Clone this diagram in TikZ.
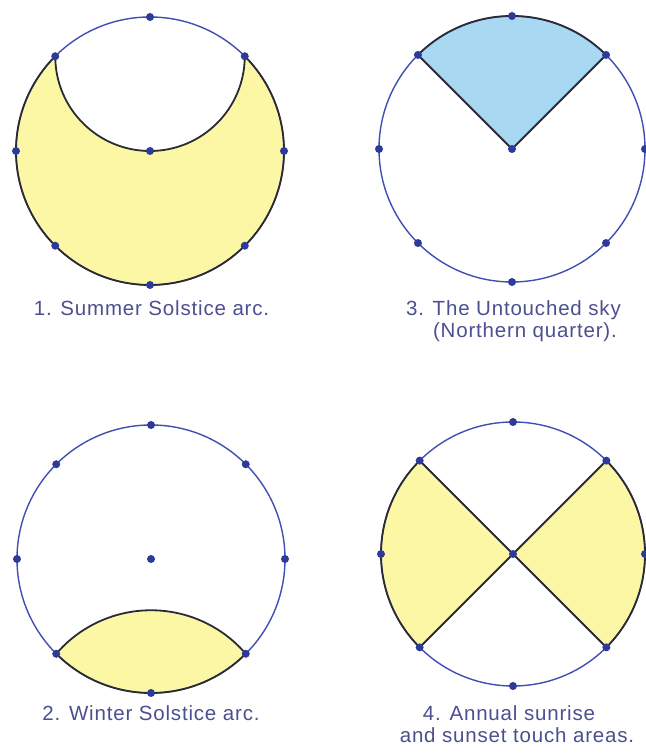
\documentclass[tikz,border=0pt]{standalone}
\usepackage{fontspec}
\setmainfont{Liberation Sans}[LetterSpace=4]
\definecolor{ringblue}{HTML}{3F4FB2}
\definecolor{dotblue}{HTML}{2E3A9A}
\definecolor{edgedark}{HTML}{2A2B35}
\definecolor{sunyellow}{HTML}{FBF7A4}
\definecolor{skyblue}{HTML}{A9D8F2}
\definecolor{labelblue}{HTML}{4B5090}
\begin{document}
\begin{tikzpicture}[x=1pt,y=1pt,
  ring/.style={draw=ringblue,line width=1.4pt},
  edge/.style={draw=edgedark,line width=1.8pt,line join=round},
  dot/.style={circle,fill=dotblue,inner sep=0pt,minimum size=8pt},
  lab/.style={text=labelblue,inner sep=0pt,font=\fontsize{20.5}{22}\selectfont}]
\useasboundingbox (0,0) rectangle (645,754);
\fill[white] (0,0) rectangle (645,754);
% centres
\coordinate (c1) at (150,603);
\coordinate (c3) at (512,605);
\coordinate (c2) at (151,195);
\coordinate (c4) at (513,200);
% fills
\path[fill=sunyellow] ([shift={(135:134pt)}]c1) arc[start angle=135,end angle=405,radius=134pt]
  arc[start angle=0,end angle=-180,radius=94.75pt] -- cycle;
\path[fill=skyblue] (c3) -- ([shift={(45:133pt)}]c3) arc[start angle=45,end angle=135,radius=133pt] -- cycle;
\path[fill=sunyellow] ([shift={(225:134pt)}]c2) arc[start angle=225,end angle=315,radius=134pt]
  arc[start angle=40.7,end angle=139.3,radius=125pt] -- cycle;
\path[fill=sunyellow] (c4) -- ([shift={(135:132pt)}]c4) arc[start angle=135,end angle=225,radius=132pt] -- cycle;
\path[fill=sunyellow] (c4) -- ([shift={(-45:132pt)}]c4) arc[start angle=-45,end angle=45,radius=132pt] -- cycle;
% rings
\draw[ring] (c1) circle[radius=134pt];
\draw[ring] (c3) circle[radius=133pt];
\draw[ring] (c2) circle[radius=134pt];
\draw[ring] (c4) circle[radius=132pt];
% dark outlines
\draw[edge] ([shift={(135:134pt)}]c1) arc[start angle=135,end angle=405,radius=134pt]
  arc[start angle=0,end angle=-180,radius=94.75pt] -- cycle;
\draw[edge] (c3) -- ([shift={(45:133pt)}]c3) arc[start angle=45,end angle=135,radius=133pt] -- cycle;
\draw[edge] ([shift={(225:134pt)}]c2) arc[start angle=225,end angle=315,radius=134pt]
  arc[start angle=40.7,end angle=139.3,radius=125pt] -- cycle;
\draw[edge] (c4) -- ([shift={(135:132pt)}]c4) arc[start angle=135,end angle=225,radius=132pt] -- cycle;
\draw[edge] (c4) -- ([shift={(-45:132pt)}]c4) arc[start angle=-45,end angle=45,radius=132pt] -- cycle;
% dots
\foreach \c/\r in {c1/134,c3/133,c2/134,c4/132}{
  \node[dot] (\c-o) at (\c) {};
  \foreach \a in {0,45,...,315}{
    \node[dot] (\c-\a) at ([shift={(\a:\r pt)}]\c) {};
  }
}
% labels
\node[lab,anchor=base] (lab1) at (151.5,438.3) {1. Summer Solstice arc.};
\node[lab,anchor=base east] (lab3a) at (621,438.3) {3. The Untouched sky};
\node[lab,anchor=base east] (lab3b) at (617,416.3) {(Northern quarter).};
\node[lab,anchor=base] (lab2) at (151,33.3) {2. Winter Solstice arc.};
\node[lab,anchor=base] (lab4a) at (509,33) {4. Annual sunrise};
\node[lab,anchor=base] (lab4b) at (517,11.5) {and sunset touch areas.};
\end{tikzpicture}
\end{document}
